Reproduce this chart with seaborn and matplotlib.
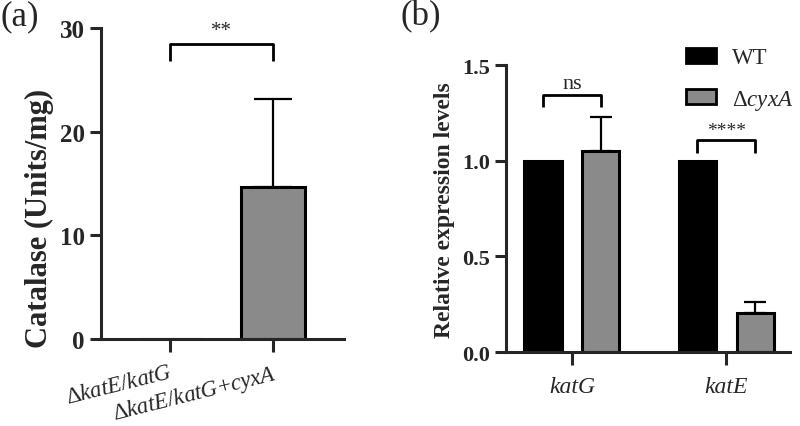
import numpy as np
import pandas as pd
import matplotlib
matplotlib.use('Agg')
import matplotlib.pyplot as plt
import seaborn as sns
from matplotlib.patches import Patch

# ========================================
# Данные
# ========================================
strains = [r'$\Delta\mathit{katE/katG}$', r'$\Delta\mathit{katE/katG\!+\!cyxA}$']
catalase_mean = [0.0, 14.7]
catalase_sd = [0.0, 8.45]

genes = ['katG', 'katE']
groups = ['WT', r'$\Delta\mathit{cyxA}$']
wt_mean = [1.0, 1.0]
cyxa_mean = [1.05, 0.205]
cyxa_sd = [0.18, 0.058]

GRAY = '#8a8a8a'

# ========================================
# Стиль
# ========================================
sns.set_style('ticks')
plt.rcParams['font.family'] = ['Liberation Serif', 'DejaVu Serif']
plt.rcParams['mathtext.fontset'] = 'custom'
plt.rcParams['mathtext.rm'] = 'Liberation Serif'
plt.rcParams['mathtext.it'] = 'Liberation Serif:italic'
plt.rcParams['mathtext.bf'] = 'Liberation Serif:bold'
plt.rcParams['axes.linewidth'] = 2.2
plt.rcParams['xtick.major.width'] = 2.2
plt.rcParams['ytick.major.width'] = 2.2
plt.rcParams['xtick.major.size'] = 9
plt.rcParams['ytick.major.size'] = 8

fig = plt.figure(figsize=(8, 4.27), dpi=100)
ax1 = fig.add_axes([0.126, 0.204, 0.304, 0.728])
ax2 = fig.add_axes([0.632, 0.173, 0.356, 0.672])


def bar_centers(ax):
    return [p.get_x() + p.get_width() / 2 for p in ax.patches]


def bracket(ax, x1, x2, y_end, y_top, text, fs, dy):
    ax.plot([x1, x1, x2, x2], [y_end, y_top, y_top, y_end], color='black',
            lw=2.0, solid_capstyle='butt', clip_on=False)
    ax.text((x1 + x2) / 2, y_top + dy, text, ha='center', va='bottom',
            fontsize=fs, clip_on=False)


# ========================================
# (a) Каталаза
# ========================================
df_a = pd.DataFrame({'strain': strains, 'value': catalase_mean})
sns.barplot(data=df_a, x='strain', y='value', color=GRAY, edgecolor='black',
            linewidth=2.2, width=0.62, errorbar=None, saturation=1, ax=ax1)
xa = bar_centers(ax1)
ax1.errorbar(xa[1:], catalase_mean[1:], yerr=[[0], catalase_sd[1:]], fmt='none',
             ecolor='black', elinewidth=1.6, capsize=14, capthick=1.6, zorder=1)
ax1.set_ylim(0, 30)
ax1.set_xlim(-0.67, 1.69)
ax1.set_yticks([0, 10, 20, 30])
ax1.set_ylabel('Catalase (Units/mg)', fontsize=22, fontweight='bold', labelpad=4)
ax1.yaxis.label.set_y(0.39)
ax1.set_xlabel('')
ax1.tick_params(axis='y', labelsize=18)
plt.setp(ax1.get_yticklabels(), fontweight='bold')
ax1.tick_params(axis='x', labelsize=16.5, pad=7)
for lab in ax1.get_xticklabels():
    lab.set_rotation(14)
    lab.set_ha('right')
    lab.set_rotation_mode('anchor')
sns.despine(ax=ax1)
bracket(ax1, xa[0], xa[1], 26.8, 28.5, '**', 15, 0.3)

# ========================================
# (b) Относительная экспрессия
# ========================================
df_b = pd.DataFrame({
    'gene': genes * 2,
    'group': [groups[0]] * 2 + [groups[1]] * 2,
    'value': wt_mean + cyxa_mean,
})
sns.barplot(data=df_b, x='gene', y='value', hue='group',
            palette={groups[0]: 'black', groups[1]: GRAY}, edgecolor='black',
            linewidth=2.2, width=0.75, gap=0.36, errorbar=None, saturation=1,
            legend=False, ax=ax2)
xb = bar_centers(ax2)
ax2.errorbar(xb[2:4], cyxa_mean, yerr=[[0, 0], cyxa_sd], fmt='none',
             ecolor='black', elinewidth=1.6, capsize=8, capthick=1.6, zorder=1)
ax2.set_ylim(0, 1.5)
ax2.set_xlim(-0.43, 1.416)
ax2.set_yticks([0, 0.5, 1.0, 1.5])
ax2.set_yticklabels(['0.0', '0.5', '1.0', '1.5'])
ax2.set_ylabel('Relative expression levels', fontsize=17, fontweight='bold', labelpad=5)
ax2.set_xlabel('')
ax2.tick_params(axis='y', labelsize=16)
plt.setp(ax2.get_yticklabels(), fontweight='bold')
ax2.tick_params(axis='x', labelsize=17, pad=8)
plt.setp(ax2.get_xticklabels(), fontstyle='italic')
sns.despine(ax=ax2)
bracket(ax2, xb[0], xb[2], 1.28, 1.346, 'ns', 16, 0.01)
bracket(ax2, xb[1], xb[3], 1.04, 1.111, '****', 14, 0.005)

handles = [Patch(facecolor='black', edgecolor='black', linewidth=2),
           Patch(facecolor=GRAY, edgecolor='black', linewidth=2)]
fig.legend(handles, groups, loc='upper left', bbox_to_anchor=(0.858, 0.887),
           frameon=False, fontsize=16.5, handlelength=1.3, handleheight=0.65,
           labelspacing=0.85, handletextpad=0.7, borderpad=0, borderaxespad=0)

fig.text(0.0, 1.0, '(a)', fontsize=25, va='top', ha='left')
fig.text(0.5, 1.0, '(b)', fontsize=25, va='top', ha='left')

fig.savefig('out.png', dpi=100)
